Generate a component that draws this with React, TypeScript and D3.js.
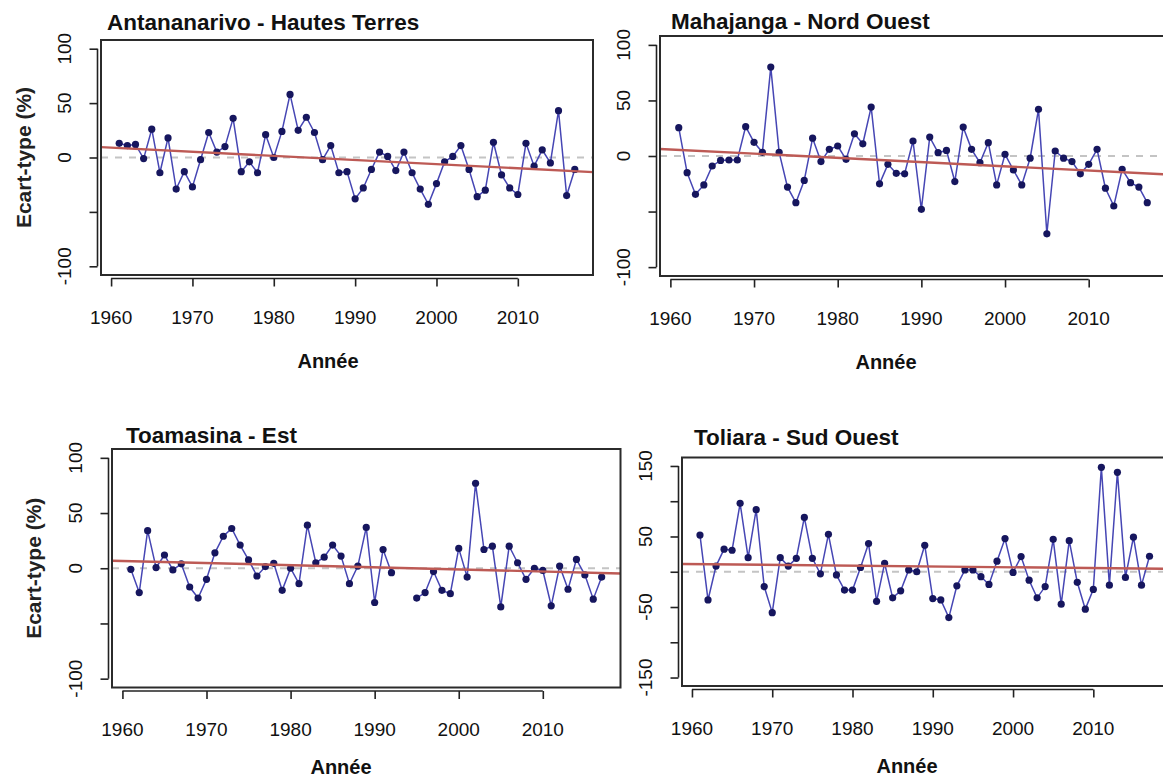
import { useEffect, useRef } from "react";
import * as d3 from "d3";

// années 1961 - 2017
const years = [
  1961, 1962, 1963, 1964, 1965, 1966, 1967, 1968, 1969, 1970,
  1971, 1972, 1973, 1974, 1975, 1976, 1977, 1978, 1979, 1980,
  1981, 1982, 1983, 1984, 1985, 1986, 1987, 1988, 1989, 1990,
  1991, 1992, 1993, 1994, 1995, 1996, 1997, 1998, 1999, 2000,
  2001, 2002, 2003, 2004, 2005, 2006, 2007, 2008, 2009, 2010,
  2011, 2012, 2013, 2014, 2015, 2016, 2017,
];

const antananarivo = [
  13, 11, 12, -1, 26, -14, 18, -29, -13, -27,
  -2, 23, 5, 10, 36, -13, -4, -14, 21, 0,
  24, 58, 25, 37, 23, -2, 11, -14, -13, -38,
  -28, -11, 5, 1, -12, 5, -14, -29, -43, -24,
  -4, 1, 11, -11, -36, -30, 14, -16, -28, -34,
  13, -8, 7, -5, 43, -35, -11,
];

const mahajanga = [
  25.5, -15, -34.5, -26, -9, -4, -3.6, -3.6, 26.4, 12.3,
  3.3, 80, 3.3, -28, -42, -22, 16, -5, 6, 9,
  -3, 20, 11, 44, -25, -7.5, -15.6, -16, 13.5, -48,
  17, 3, 5, -23, 26, 6, -6, 12, -26, 1.5,
  -12.6, -26, -2, 42, -70, 4.5, -2, -5, -16, -7.5,
  6, -29, -45, -12, -24, -28, -42,
];

// 1993 et 1994 manquantes
const toamasina: (number | null)[] = [
  -1, -22, 34, 0.6, 12, -1.5, 4, -17, -27, -10,
  14, 29, 36, 21, 7.5, -7, 1.5, 4.5, -20, 0,
  -14, 39, 5, 10, 21, 11, -14, 2, 37, -31,
  17, -4, null, null, -27, -22, -3, -20, -23, 18,
  -8, 77, 17, 20, -35, 20, 5, -10, 0, -2,
  -34, 2, -19, 8, -6, -28, -8,
];

const toliara = [
  52, -40, 8, 32, 30.5, 97, 20, 88, -21, -58,
  20, 8, 19, 77, 19, -3, 53, -4.5, -26, -26,
  6, 40, -42, 12, -37, -27, 2.6, 0, 37.6, -38,
  -40, -65, -20, 2.6, 2.6, -7, -18, 15, 47, -1,
  21.5, -12, -37, -21, 46, -46, 44, -15, -53, -25,
  148, -19, 141, -8, 49, -19, 22,
];

const titles = [
  "Antananarivo - Hautes Terres",
  "Mahajanga - Nord Ouest",
  "Toamasina - Est",
  "Toliara - Sud Ouest",
];

const xTicks = [1960, 1970, 1980, 1990, 2000, 2010];
const yTicks100 = [-100, -50, 0, 50, 100];
const yLabels100 = [-100, 0, 50, 100];
const yTicks150 = [-150, -100, -50, 0, 50, 100, 150];
const yLabels150 = [-150, -50, 50, 150];

const FONT = "'Liberation Sans', Arial, Helvetica, sans-serif";

const panels = [
  { values: antananarivo, x0: 101, x1: 593, y0: 40, y1: 275, yDom: [-108, 108], yTicks: yTicks100, yLabels: yLabels100,
    titleX: 107, titleY: 30, anneeX: 328, anneeY: 368, yTitleX: 24, showYTitle: true },
  { values: mahajanga, x0: 660, x1: 1166, y0: 36, y1: 276, yDom: [-108, 108], yTicks: yTicks100, yLabels: yLabels100,
    titleX: 671, titleY: 29, anneeX: 886, anneeY: 369, yTitleX: 0, showYTitle: false },
  { values: toamasina, x0: 112, x1: 620.5, y0: 449, y1: 687.5, yDom: [-108, 108], yTicks: yTicks100, yLabels: yLabels100,
    titleX: 126, titleY: 443, anneeX: 341, anneeY: 774, yTitleX: 34, showYTitle: true },
  { values: toliara, x0: 682, x1: 1167.5, y0: 457.5, y1: 686, yDom: [-162, 162], yTicks: yTicks150, yLabels: yLabels150,
    titleX: 694, titleY: 445, anneeX: 907, anneeY: 773, yTitleX: 0, showYTitle: false },
];

const App = () => {
  const ref = useRef<SVGSVGElement>(null);

  useEffect(() => {
    const svg = d3.select(ref.current);
    svg.selectAll("*").remove();

    // R style x range: data extent +/- 4%
    const [minY, maxY] = d3.extent(years) as [number, number];
    const pad = (maxY - minY) * 0.04;

    panels.forEach((p, i) => {
      const x = d3.scaleLinear().domain([minY - pad, maxY + pad]).range([p.x0, p.x1]);
      const y = d3.scaleLinear().domain(p.yDom).range([p.y1, p.y0]);
      const pts = years.map((yr, k) => ({ yr, v: p.values[k] as number | null }));
      const valid = pts.filter((d) => d.v != null) as { yr: number; v: number }[];

      const g = svg.append("g");
      g.append("clipPath").attr("id", `clip${i}`).append("rect")
        .attr("x", p.x0).attr("y", p.y0).attr("width", p.x1 - p.x0).attr("height", p.y1 - p.y0);
      const plot = g.append("g").attr("clip-path", `url(#clip${i})`);

      // zero line
      plot.append("line")
        .attr("x1", p.x0).attr("x2", p.x1).attr("y1", y(0)).attr("y2", y(0))
        .attr("stroke", "#c4c4c4").attr("stroke-width", 2).attr("stroke-dasharray", "7,7");

      const line = d3.line<{ yr: number; v: number | null }>()
        .defined((d) => d.v != null)
        .x((d) => x(d.yr))
        .y((d) => y(d.v as number));

      plot.append("path").datum(pts).attr("d", line)
        .attr("fill", "none").attr("stroke", "#4646b4").attr("stroke-width", 1.5);

      plot.selectAll("circle").data(valid).join("circle")
        .attr("cx", (d) => x(d.yr)).attr("cy", (d) => y(d.v))
        .attr("r", 3.6).attr("fill", "#16165e");

      // linear trend (least squares)
      const mx = d3.mean(valid, (d) => d.yr) as number;
      const my = d3.mean(valid, (d) => d.v) as number;
      const slope = (d3.sum(valid, (d) => (d.yr - mx) * (d.v - my)) as number) /
        (d3.sum(valid, (d) => (d.yr - mx) ** 2) as number);
      const [a, b] = x.domain();
      plot.append("line")
        .attr("x1", x(a)).attr("x2", x(b))
        .attr("y1", y(my + slope * (a - mx))).attr("y2", y(my + slope * (b - mx)))
        .attr("stroke", "#bd5a55").attr("stroke-width", 2.4);

      // box
      g.append("rect")
        .attr("x", p.x0).attr("y", p.y0).attr("width", p.x1 - p.x0).attr("height", p.y1 - p.y0)
        .attr("fill", "none").attr("stroke", "#2b2b2b").attr("stroke-width", 2);

      // y axis
      const ax = p.x0 - 3.5;
      const yAxis = g.append("g").attr("transform", `translate(${ax},0)`)
        .call(d3.axisLeft(y).tickValues(p.yTicks).tickSize(8).tickFormat(() => ""));
      yAxis.select(".domain").remove();
      yAxis.selectAll("line").attr("stroke", "#222").attr("stroke-width", 1.6);
      yAxis.append("line")
        .attr("y1", y(d3.min(p.yTicks) as number)).attr("y2", y(d3.max(p.yTicks) as number))
        .attr("stroke", "#222").attr("stroke-width", 1.6);
      g.selectAll(".ylab").data(p.yLabels).join("text")
        .attr("transform", (d) => `translate(${ax - 34 + 7},${y(d)}) rotate(-90)`)
        .attr("text-anchor", "middle").attr("font-family", FONT).attr("font-size", 19)
        .attr("fill", "#111").text((d) => d);

      // x axis
      const ay = p.y1 + 3.5;
      const xAxis = g.append("g").attr("transform", `translate(0,${ay})`)
        .call(d3.axisBottom(x).tickValues(xTicks).tickSize(8).tickFormat(() => ""));
      xAxis.select(".domain").remove();
      xAxis.selectAll("line").attr("stroke", "#222").attr("stroke-width", 1.6);
      xAxis.append("line")
        .attr("x1", x(xTicks[0])).attr("x2", x(xTicks[xTicks.length - 1]))
        .attr("stroke", "#222").attr("stroke-width", 1.6);
      g.selectAll(".xlab").data(xTicks).join("text")
        .attr("x", (d) => x(d)).attr("y", p.y1 + 48.5)
        .attr("text-anchor", "middle").attr("font-family", FONT).attr("font-size", 19)
        .attr("fill", "#111").text((d) => d);

      g.append("text")
        .attr("x", p.anneeX).attr("y", p.anneeY)
        .attr("text-anchor", "middle").attr("font-family", FONT).attr("font-size", 20)
        .attr("font-weight", "bold").attr("fill", "#111").text("Année");

      g.append("text")
        .attr("x", p.titleX).attr("y", p.titleY)
        .attr("font-family", FONT).attr("font-size", 22.5).attr("font-weight", "bold")
        .attr("fill", "#111").text(titles[i]);

      if (p.showYTitle) {
        g.append("text")
          .attr("transform", `translate(${p.yTitleX + 7},${(p.y0 + p.y1) / 2}) rotate(-90)`)
          .attr("text-anchor", "middle").attr("font-family", FONT).attr("font-size", 21)
          .attr("font-weight", "bold").attr("fill", "#222").text("Ecart-type (%)");
      }
    });
  }, []);

  return (
    <svg
      ref={ref}
      width={1163}
      height={782}
      style={{ position: "absolute", left: 0, top: 0, background: "#fff", overflow: "hidden" }}
    ></svg>
  );
};

export default App;
